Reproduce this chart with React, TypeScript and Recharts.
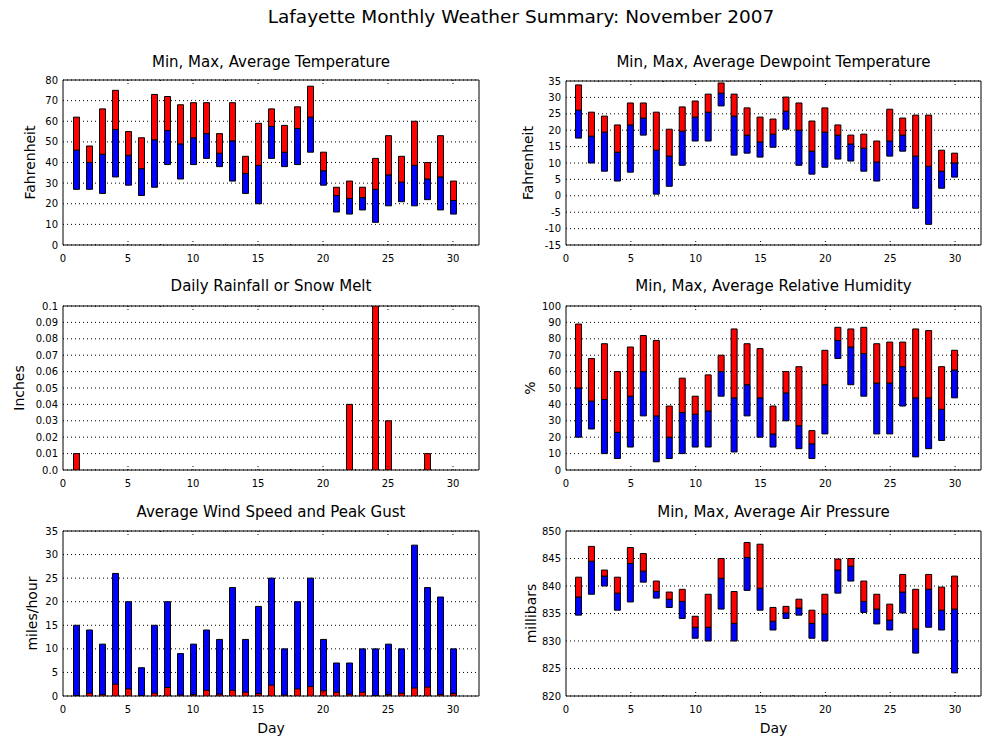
import React from 'react';
import { ComposedChart, Bar, XAxis, YAxis, CartesianGrid, ReferenceArea } from 'recharts';

const FONT = '"DejaVu Sans", sans-serif';
const RED = '#ff0000';
const BLUE = '#0000ff';

const days = [1, 2, 3, 4, 5, 6, 7, 8, 9, 10, 11, 12, 13, 14, 15, 16, 17, 18, 19, 20, 21, 22, 23, 24, 25, 26, 27, 28, 29, 30];
const xTicks = [0, 2.5, 5, 7.5, 10, 12.5, 15, 17.5, 20, 22.5, 25, 27.5, 30];

const tempMax = [62, 48, 66, 75, 55, 52, 73, 72, 68, 69, 69, 54, 69, 43, 59, 66, 58, 67, 77, 45, 28, 31, 28, 42, 53, 43, 60, 40, 53, 31];
const tempAvg = [46, 40, 44, 56, 43.5, 37, 51, 55.5, 49, 52, 54, 44.5, 50.5, 34.7, 38.6, 57.5, 45, 56.5, 62, 36, 24, 22.6, 23, 27, 34, 30.5, 38.6, 32, 33, 21.6];
const tempMin = [27, 27, 25, 33, 29, 24, 28, 39, 32, 39, 42, 38, 31, 25, 20, 42, 38, 39, 45, 29, 16, 15, 17, 11, 19, 21, 19, 22, 17, 15];
const tempTicks = [0, 10, 20, 30, 40, 50, 60, 70, 80];

const dewMax = [33.8, 25.5, 24.3, 21.6, 28.3, 28.3, 25.5, 20.3, 27.1, 28.9, 31, 34.4, 31, 26.8, 24, 23.4, 30.1, 28.3, 22.8, 26.8, 21.6, 18.5, 18.8, 16.7, 26.4, 23.7, 24.6, 24.6, 13.9, 13];
const dewAvg = [26.1, 18.2, 19.4, 13.3, 21.6, 23.7, 13.9, 12.1, 19.7, 24, 25.5, 31.3, 24.3, 18.5, 16.4, 18.8, 25.8, 20, 13.6, 19.4, 18.5, 15.8, 14.5, 10.3, 16.7, 18.5, 12.1, 9, 7.5, 10];
const dewMin = [17.6, 10, 7.5, 4.5, 7.2, 18.5, 0.5, 2.9, 9.3, 16.7, 16.7, 27.4, 12.4, 13, 11.8, 14.8, 20.3, 9.3, 6.6, 8.7, 11.2, 10.6, 7.5, 4.5, 12.1, 13.6, -3.8, -8.7, 2.3, 5.7];
const dewTicks = [-15, -10, -5, 0, 5, 10, 15, 20, 25, 30, 35];

const rain = [0.01, 0, 0, 0, 0, 0, 0, 0, 0, 0, 0, 0, 0, 0, 0, 0, 0, 0, 0, 0, 0, 0.04, 0, 0.1, 0.03, 0, 0, 0.01, 0, 0];
const rainTicks = [0, 0.01, 0.02, 0.03, 0.04, 0.05, 0.06, 0.07, 0.08, 0.09, 0.1];

const rhMax = [89, 68, 77, 60, 75, 82, 79, 39, 56, 45, 58, 70, 86, 77, 74, 39, 60, 63, 24, 73, 87, 86, 87, 77, 78, 78, 86, 85, 63, 73];
const rhAvg = [50, 42, 43, 23, 45, 60, 33, 20, 35, 34, 36, 60, 44, 52, 44, 22, 47, 27, 16, 52, 79, 75, 71, 53, 53, 63, 44, 44, 37, 61];
const rhMin = [20, 25, 10, 7, 14, 33, 5, 7, 10, 14, 14, 45, 11, 33, 20, 14, 30, 13, 7, 22, 68, 52, 45, 22, 22, 39, 8, 13, 18, 44];
const rhTicks = [0, 10, 20, 30, 40, 50, 60, 70, 80, 90, 100];

const gust = [15, 14, 11, 26, 20, 6, 15, 20, 9, 11, 14, 12, 23, 12, 19, 25, 10, 20, 25, 12, 7, 7, 10, 10, 11, 10, 32, 23, 21, 10];
const windAvg = [0.1, 0.6, 0.3, 2.5, 1.5, 0.1, 0.6, 1.8, 0.2, 0.3, 1.2, 0.4, 1.2, 0.8, 0.5, 2.3, 0.2, 1.5, 2, 1.1, 0.8, 0.4, 0.8, 0.1, 0.3, 0.6, 1.7, 1.9, 0.3, 0.5];
const windTicks = [0, 5, 10, 15, 20, 25, 30, 35];

const presMax = [841.6, 847.2, 842.9, 841.6, 847, 845.9, 840.9, 838.9, 839.4, 834.5, 838.5, 845, 839, 847.9, 847.6, 836.1, 836.3, 837.6, 835.6, 838.5, 844.9, 845, 840.9, 838.5, 836.7, 842.1, 839.4, 842.1, 839.8, 841.8];
const presAvg = [838, 844.5, 841.8, 838.7, 844.1, 842.7, 839, 837.6, 837.2, 832.5, 832.5, 841.4, 833.2, 845.2, 839.6, 833.6, 835.1, 836, 833.2, 834.9, 842.9, 843.6, 837.2, 835.8, 833.8, 838.9, 832.2, 839.4, 835.6, 835.8];
const presMin = [834.7, 838.5, 840, 835.6, 837.1, 840.7, 837.8, 836.1, 834.1, 830.5, 830, 835.8, 830, 839.2, 835.6, 832, 834.1, 834.7, 830.5, 830, 838.7, 840.9, 835.2, 833.1, 832, 835.1, 827.8, 832.5, 832, 824.2];
const presTicks = [820, 825, 830, 835, 840, 845, 850];

const tempData = days.map((day, i) => ({ day, lo: tempMin[i], mid: tempAvg[i], hi: tempMax[i] }));
const dewData = days.map((day, i) => ({ day, lo: dewMin[i], mid: dewAvg[i], hi: dewMax[i] }));
const rhData = days.map((day, i) => ({ day, lo: rhMin[i], mid: rhAvg[i], hi: rhMax[i] }));
const presData = days.map((day, i) => ({ day, lo: presMin[i], mid: presAvg[i], hi: presMax[i] }));
const rainData = days.map((day, i) => ({ day, rain: rain[i] > 0 ? rain[i] : null }));
const windData = days.map((day, i) => ({ day, gust: gust[i], avg: windAvg[i] }));

const lowerRange = (r: any) => [r.lo, r.mid];
const upperRange = (r: any) => [r.mid, r.hi];

function XTick(props: any) {
  const { x, y, payload, plotH } = props;
  const v = payload.value;
  const major = v % 5 === 0;
  const len = major ? 6 : 2;
  return (
    <g>
      {v > 0 && (
        <>
          <line x1={x} x2={x} y1={y} y2={y - len} stroke="#000" strokeDasharray="1 2" />
          <line x1={x} x2={x} y1={y - plotH} y2={y - plotH + len} stroke="#000" strokeDasharray="1 2" />
        </>
      )}
      {major && (
        <text x={x} y={y + 17} textAnchor="middle" fontSize={10} fontFamily={FONT} fill="#000">
          {v}
        </text>
      )}
    </g>
  );
}

type PanelProps = {
  left: number;
  top: number;
  w: number;
  h: number;
  data: any[];
  yDomain: [number, number];
  yTicks: number[];
  yFmt?: (v: number) => string;
  children: React.ReactNode;
};

function Panel({ left, top, w, h, data, yDomain, yTicks, yFmt, children }: PanelProps) {
  const M = 10;
  const YW = 60;
  const XH = 30;
  return (
    <div style={{ position: 'absolute', left: left - YW, top: top - M }}>
      <ComposedChart
        width={w + YW + M}
        height={h + M + XH}
        data={data}
        margin={{ top: M, right: M, bottom: 0, left: 0 }}
        barGap={-6}
        barSize={6}
      >
        <CartesianGrid vertical={false} stroke="#000" strokeDasharray="1 3" />
        <XAxis
          dataKey="day"
          type="number"
          domain={[0, 32]}
          ticks={xTicks}
          interval={0}
          height={XH}
          axisLine={false}
          tickLine={false}
          tickSize={0}
          tickMargin={0}
          allowDataOverflow
          tick={(p: any) => <XTick {...p} plotH={h} />}
        />
        <YAxis
          type="number"
          domain={yDomain}
          ticks={yTicks}
          interval={0}
          width={YW}
          axisLine={false}
          tickLine={false}
          tickSize={0}
          tickMargin={5}
          allowDataOverflow
          tickFormatter={yFmt}
          tick={{ fontSize: 10, fill: '#000', fontFamily: FONT }}
        />
        {children}
        <ReferenceArea
          x1={0}
          x2={32}
          y1={yDomain[0]}
          y2={yDomain[1]}
          fill="none"
          stroke="#000"
          strokeWidth={1}
          ifOverflow="visible"
        />
      </ComposedChart>
    </div>
  );
}

const rainFmt = (v: number) => (v === 0 ? '0.0' : v === 0.1 ? '0.1' : v.toFixed(2));

const titles = [
  { x: 271, y: 66.5, t: 'Min, Max, Average Temperature' },
  { x: 773.5, y: 66.5, t: 'Min, Max, Average Dewpoint Temperature' },
  { x: 271, y: 291, t: 'Daily Rainfall or Snow Melt' },
  { x: 773.5, y: 291, t: 'Min, Max, Average Relative Humidity' },
  { x: 271, y: 516.5, t: 'Average Wind Speed and Peak Gust' },
  { x: 773.5, y: 516.5, t: 'Min, Max, Average Air Pressure' },
];
const yLabels = [
  { x: 30, y: 162.5, t: 'Fahrenheit' },
  { x: 528, y: 163, t: 'Fahrenheit' },
  { x: 18.5, y: 388, t: 'Inches' },
  { x: 530, y: 388, t: '%' },
  { x: 32, y: 613.5, t: 'miles/hour' },
  { x: 530.5, y: 613.5, t: 'millibars' },
];

export default function App() {
  return (
    <div style={{ position: 'absolute', left: 0, top: 0, width: 1000, height: 750, background: '#fff', overflow: 'hidden' }}>
      <Panel left={63} top={80} w={416} h={165} data={tempData} yDomain={[0, 80]} yTicks={tempTicks}>
        <Bar dataKey={lowerRange} fill={BLUE} stroke="#000" strokeWidth={1} isAnimationActive={false} />
        <Bar dataKey={upperRange} fill={RED} stroke="#000" strokeWidth={1} isAnimationActive={false} />
      </Panel>
      <Panel left={566} top={81} w={415} h={164} data={dewData} yDomain={[-15, 35]} yTicks={dewTicks}>
        <Bar dataKey={lowerRange} fill={BLUE} stroke="#000" strokeWidth={1} isAnimationActive={false} />
        <Bar dataKey={upperRange} fill={RED} stroke="#000" strokeWidth={1} isAnimationActive={false} />
      </Panel>
      <Panel left={63} top={306} w={416} h={164} data={rainData} yDomain={[0, 0.1]} yTicks={rainTicks} yFmt={rainFmt}>
        <Bar dataKey="rain" fill={RED} stroke="#000" strokeWidth={1} isAnimationActive={false} />
      </Panel>
      <Panel left={566} top={306} w={415} h={164} data={rhData} yDomain={[0, 100]} yTicks={rhTicks}>
        <Bar dataKey={lowerRange} fill={BLUE} stroke="#000" strokeWidth={1} isAnimationActive={false} />
        <Bar dataKey={upperRange} fill={RED} stroke="#000" strokeWidth={1} isAnimationActive={false} />
      </Panel>
      <Panel left={63} top={531} w={416} h={165} data={windData} yDomain={[0, 35]} yTicks={windTicks}>
        <Bar dataKey="gust" fill={BLUE} stroke="#000" strokeWidth={1} isAnimationActive={false} />
        <Bar dataKey="avg" fill={RED} stroke="#000" strokeWidth={1} isAnimationActive={false} />
      </Panel>
      <Panel left={566} top={531} w={415} h={165} data={presData} yDomain={[820, 850]} yTicks={presTicks}>
        <Bar dataKey={lowerRange} fill={BLUE} stroke="#000" strokeWidth={1} isAnimationActive={false} />
        <Bar dataKey={upperRange} fill={RED} stroke="#000" strokeWidth={1} isAnimationActive={false} />
      </Panel>
      <svg
        width={1000}
        height={750}
        style={{ position: 'absolute', left: 0, top: 0, pointerEvents: 'none' }}
        fontFamily={FONT}
      >
        <text x={521} y={23} textAnchor="middle" fontSize={18.5} fill="#000">
          Lafayette Monthly Weather Summary: November 2007
        </text>
        {titles.map((t) => (
          <text key={t.t + t.x} x={t.x} y={t.y} textAnchor="middle" fontSize={15} fill="#000">
            {t.t}
          </text>
        ))}
        {yLabels.map((t) => (
          <text
            key={t.t + t.x}
            x={t.x}
            y={t.y}
            textAnchor="middle"
            dominantBaseline="central"
            fontSize={14}
            fill="#000"
            transform={`rotate(-90 ${t.x} ${t.y})`}
          >
            {t.t}
          </text>
        ))}
        <text x={271} y={733} textAnchor="middle" fontSize={14} fill="#000">
          Day
        </text>
        <text x={773.5} y={733} textAnchor="middle" fontSize={14} fill="#000">
          Day
        </text>
      </svg>
    </div>
  );
}
